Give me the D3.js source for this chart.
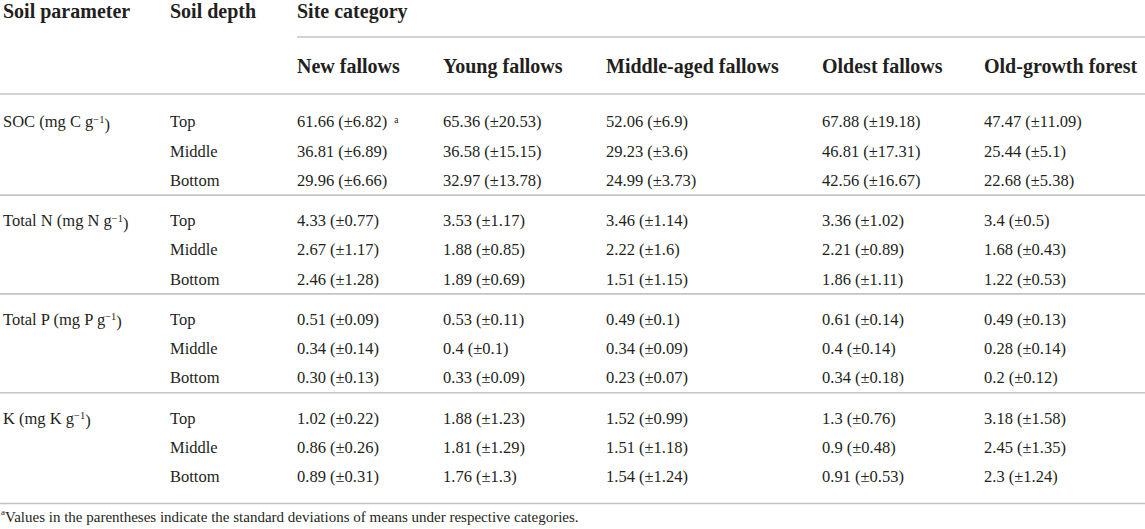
<!DOCTYPE html>
<html>

<head>
    <meta charset="UTF-8">
    <style>
        body {
            margin: 0;
            background: #ffffff;
        }

        svg text {
            font-family: "Liberation Serif", "DejaVu Serif", serif;
            fill: #231f20;
        }

        .head {
            font-size: 20px;
            font-weight: bold;
        }

        .cell {
            font-size: 16.5px;
        }

        .note {
            font-size: 15px;
        }

        .rule {
            stroke: #c4c4c4;
            stroke-width: 1.6px;
        }
    </style>
</head>

<body>
    <svg></svg>

    <script src="https://d3js.org/d3.v7.min.js"></script>

    <script>
        let width = 1145, height = 529;

        // table content
        let paramNames = ["SOC (mg C g", "Total N (mg N g", "Total P (mg P g", "K (mg K g"];
        let depths = ["Top", "Middle", "Bottom"];
        let sites = ["New fallows", "Young fallows", "Middle-aged fallows", "Oldest fallows", "Old-growth forest"];

        let socMean = [["61.66", "65.36", "52.06", "67.88", "47.47"],
                       ["36.81", "36.58", "29.23", "46.81", "25.44"],
                       ["29.96", "32.97", "24.99", "42.56", "22.68"]];
        let socSd = [["6.82", "20.53", "6.9", "19.18", "11.09"],
                     ["6.89", "15.15", "3.6", "17.31", "5.1"],
                     ["6.66", "13.78", "3.73", "16.67", "5.38"]];

        let nMean = [["4.33", "3.53", "3.46", "3.36", "3.4"],
                     ["2.67", "1.88", "2.22", "2.21", "1.68"],
                     ["2.46", "1.89", "1.51", "1.86", "1.22"]];
        let nSd = [["0.77", "1.17", "1.14", "1.02", "0.5"],
                   ["1.17", "0.85", "1.6", "0.89", "0.43"],
                   ["1.28", "0.69", "1.15", "1.11", "0.53"]];

        let pMean = [["0.51", "0.53", "0.49", "0.61", "0.49"],
                     ["0.34", "0.4", "0.34", "0.4", "0.28"],
                     ["0.30", "0.33", "0.23", "0.34", "0.2"]];
        let pSd = [["0.09", "0.11", "0.1", "0.14", "0.13"],
                   ["0.14", "0.1", "0.09", "0.14", "0.14"],
                   ["0.13", "0.09", "0.07", "0.18", "0.12"]];

        let kMean = [["1.02", "1.88", "1.52", "1.3", "3.18"],
                     ["0.86", "1.81", "1.51", "0.9", "2.45"],
                     ["0.89", "1.76", "1.54", "0.91", "2.3"]];
        let kSd = [["0.22", "1.23", "0.99", "0.76", "1.58"],
                   ["0.26", "1.29", "1.18", "0.48", "1.35"],
                   ["0.31", "1.3", "1.24", "0.53", "1.24"]];

        let footnote = "Values in the parentheses indicate the standard deviations of means under respective categories.";

        let means = [socMean, nMean, pMean, kMean];
        let sds = [socSd, nSd, pSd, kSd];

        let svg = d3.select("svg")
            .attr("width", width)
            .attr("height", height)
            .attr("viewBox", "0 0 " + width + " " + height);

        // column positions
        let xCol = d3.scaleOrdinal()
            .domain(["param", "depth"].concat(sites))
            .range([3, 170, 297, 443, 606, 822, 984]);

        // row layout: group then depth
        let yGroup = d3.scaleLinear().domain([0, 1]).range([121.5, 220.3]);
        let yDepth = d3.scaleLinear().domain([0, 1]).range([0, 29.3]);
        let rowY = (g, r) => yGroup(g) + yDepth(r);

        // header
        let head = svg.append("g").attr("class", "head");
        head.append("text").attr("x", xCol("param")).attr("y", 11).attr("dy", "0.35em").text("Soil parameter");
        head.append("text").attr("x", xCol("depth")).attr("y", 11).attr("dy", "0.35em").text("Soil depth");
        head.append("text").attr("x", xCol(sites[0])).attr("y", 11).attr("dy", "0.35em").text("Site category");
        head.selectAll(".site")
            .data(sites)
            .enter()
            .append("text")
            .attr("class", "site")
            .attr("x", d => xCol(d))
            .attr("y", 65.5)
            .attr("dy", "0.35em")
            .text(d => d);

        // rules
        let rules = svg.append("g");
        rules.append("line").attr("class", "rule")
            .attr("x1", xCol(sites[0])).attr("x2", width).attr("y1", 37).attr("y2", 37);
        rules.append("line").attr("class", "rule")
            .attr("x1", 0).attr("x2", width).attr("y1", 94).attr("y2", 94);
        rules.selectAll(".sep")
            .data(d3.range(paramNames.length))
            .enter()
            .append("line")
            .attr("class", "rule sep")
            .attr("x1", 0).attr("x2", width)
            .attr("y1", g => g < paramNames.length - 1 ? rowY(g, 2) + 15 : rowY(g, 2) + 27)
            .attr("y2", g => g < paramNames.length - 1 ? rowY(g, 2) + 15 : rowY(g, 2) + 27);

        // body
        let body = svg.append("g").attr("class", "cell");

        let paramText = body.selectAll(".param")
            .data(paramNames)
            .enter()
            .append("text")
            .attr("class", "param")
            .attr("x", xCol("param"))
            .attr("y", (d, g) => rowY(g, 0))
            .attr("dy", "0.35em");
        paramText.append("tspan").text(d => d);
        paramText.append("tspan").attr("dy", "-0.42em").style("font-size", "10.5px").text("\u22121");
        paramText.append("tspan").attr("dy", "0.42em").text(")");

        let cells = [];
        means.forEach((m, g) => {
            depths.forEach((dep, r) => {
                cells.push({ g: g, r: r, col: "depth", text: dep });
                sites.forEach((s, c) => {
                    cells.push({ g: g, r: r, col: s, text: m[r][c] + " (\u00b1" + sds[g][r][c] + ")", first: g == 0 && r == 0 && c == 0 });
                });
            });
        });

        let cellText = body.selectAll(".val")
            .data(cells)
            .enter()
            .append("text")
            .attr("class", "val")
            .attr("x", d => xCol(d.col))
            .attr("y", d => rowY(d.g, d.r))
            .attr("dy", "0.35em");
        cellText.append("tspan").text(d => d.text);
        cellText.filter(d => d.first)
            .append("tspan")
            .attr("dx", 7)
            .attr("dy", "-0.45em")
            .style("font-size", "9.5px")
            .text("a");

        // footnote
        let note = svg.append("text")
            .attr("class", "note")
            .attr("x", 1)
            .attr("y", 519)
            .attr("dy", "0.35em");
        note.append("tspan").attr("dy", "-0.45em").style("font-size", "9px").text("a");
        note.append("tspan").attr("dy", "0.45em").text(footnote);
    </script>

</body>

</html>
